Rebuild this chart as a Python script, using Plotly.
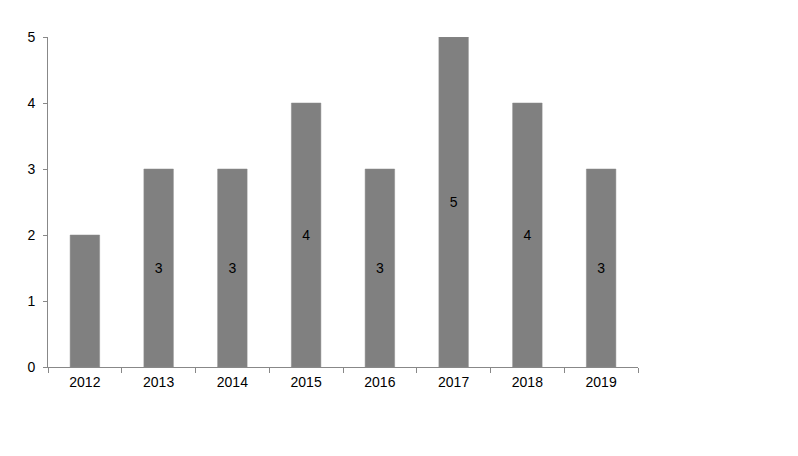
import plotly.graph_objects as go

years = ["2012", "2013", "2014", "2015", "2016", "2017", "2018", "2019"]
values = [2, 3, 3, 4, 3, 5, 4, 3]
shown_labels = [False, True, True, True, True, True, True, True]
y_ticks = [0, 1, 2, 3, 4, 5]

labels = [str(v) if s else "" for v, s in zip(values, shown_labels)]

fig = go.Figure(go.Bar(
    x=years, y=values, text=labels,
    textposition="inside", insidetextanchor="middle",
    textangle=0,
    textfont=dict(family="Liberation Sans, Arial", size=14, color="#000000"),
    marker=dict(color="#808080", line=dict(color="#8a8a8a", width=0.5)),
    width=0.4, hoverinfo="skip",
))

fig.update_layout(
    width=798, height=456,
    margin=dict(l=48, r=160, t=37, b=89),
    paper_bgcolor="white", plot_bgcolor="white",
    showlegend=False,
    font=dict(family="Liberation Sans, Arial", size=14, color="#000000"),
    uniformtext=dict(minsize=8, mode="show"),
)
fig.update_xaxes(
    type="category", showgrid=False, showline=True, linecolor="#888888", linewidth=1,
    ticks="outside", tickson="boundaries", ticklen=5, tickcolor="#888888",
    tickfont=dict(size=14), zeroline=False, automargin=False, ticklabelstandoff=2,
)
fig.update_yaxes(
    range=[0, 5], tickvals=y_ticks, showgrid=False, showline=True,
    linecolor="#888888", linewidth=1, ticks="outside", ticklen=4, tickcolor="#888888",
    tickfont=dict(size=14), zeroline=False, ticklabelstandoff=5, automargin=False,
)

fig.write_html(
    "out.html",
    config={"displayModeBar": False, "staticPlot": True},
    post_script="document.body.style.margin='0';document.body.style.padding='0';",
)
